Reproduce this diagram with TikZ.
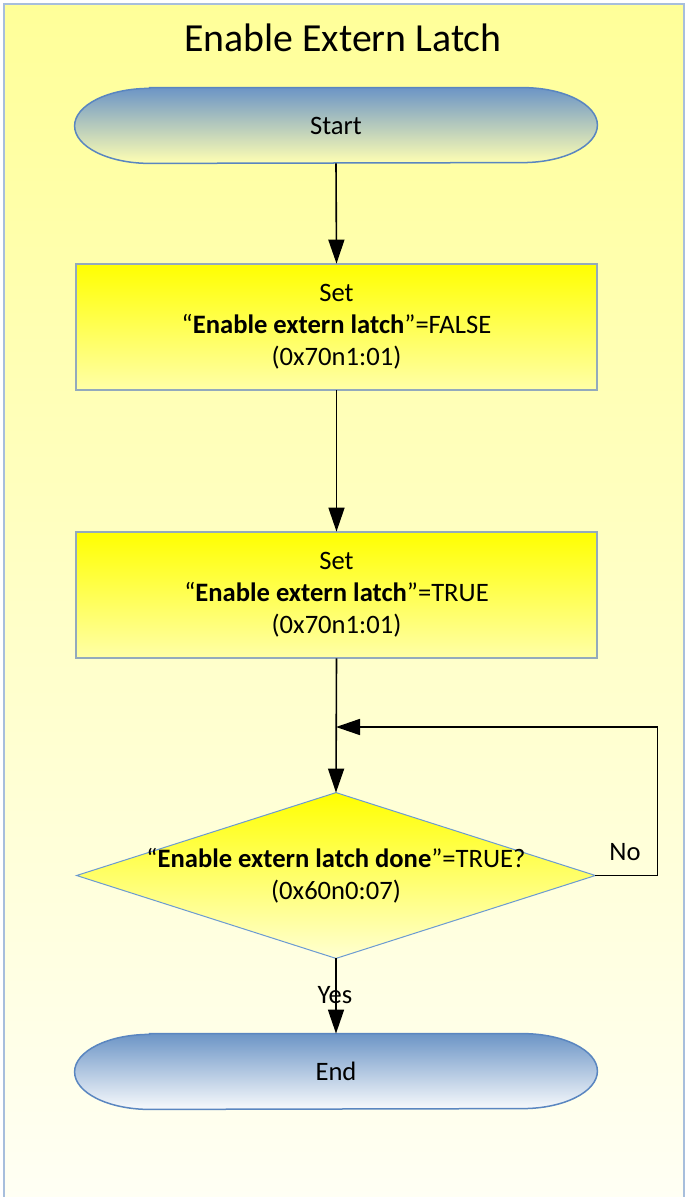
\documentclass[tikz,border=0pt]{standalone}
\usepackage{fontspec}
\setmainfont{Carlito}
\usepackage{tikz}
\usetikzlibrary{arrows.meta,backgrounds}

\definecolor{pagetop}{HTML}{FFFF99}
\definecolor{pagebot}{HTML}{FFFFF4}
\definecolor{pageline}{HTML}{A7BEDC}
\definecolor{termtop}{HTML}{6C95C6}
\definecolor{termline}{HTML}{5A86C0}
\definecolor{boxtop}{HTML}{FFFF00}
\definecolor{boxbot}{HTML}{FFFFA8}
\definecolor{boxline}{HTML}{93AABC}
\definecolor{decbot}{HTML}{FFFFD2}
\definecolor{decline}{HTML}{6B9AD2}

\tikzset{
  txt/.style={align=center, inner sep=0pt, font=\fontsize{13.3}{16}\selectfont},
  term/.style={txt, minimum width=261pt, minimum height=37.5pt},
  stepbox/.style={txt, minimum width=260.5pt, minimum height=63pt},
  decide/.style={txt, minimum width=259pt, minimum height=82.5pt},
  arr/.style={-{Triangle[length=12pt, width=8pt]}, line width=0.8pt},
}

% terminal outline with elliptic ends, drawn under the node
\newcommand{\termfill}[2]{%
  \shade[top color=termtop, bottom color=#2, draw=termline, line width=0.75pt]
    ([shift={(75,0)}]#1.north west) -- ([shift={(-75,0)}]#1.north east)
    arc[start angle=90, end angle=-90, x radius=37.5pt, y radius=18.75pt]
    -- ([shift={(75,0)}]#1.south west)
    arc[start angle=270, end angle=90, x radius=37.5pt, y radius=18.75pt] -- cycle;}

\begin{document}
\begin{tikzpicture}[x=0.5pt, y=0.5pt]
  \useasboundingbox (0,0) rectangle (686,-1197);

  % ---- nodes ----
  \node[font=\fontsize{19.9}{24}\selectfont] (title) at (343,-38) {Enable Extern Latch};
  \node[term] (start) at (336,-125.5) {Start};
  \node[stepbox] (set1) at (336.5,-327) {Set\\“\textbf{Enable extern latch}”=FALSE\\(0x70n1:01)};
  \node[stepbox] (set2) at (336.5,-595) {Set\\“\textbf{Enable extern latch}”=TRUE\\(0x70n1:01)};
  \node[decide] (check) at (336,-875.5) {“\textbf{Enable extern latch done}”=TRUE?\\(0x60n0:07)};
  \node[term] (stop) at (336,-1071.5) {End};
  \coordinate (join) at (336,-727);

  % ---- shapes ----
  \begin{scope}[on background layer]
    \shade[top color=pagetop, bottom color=pagebot] (4,-4) rectangle (684,-1197);
    \draw[pageline, line width=1pt] (4,-1197) -- (4,-4) -- (684,-4) -- (684,-1197);
    \termfill{start}{yellow!30!white}
    \termfill{stop}{termtop!5!white}
    \shade[top color=boxtop, bottom color=boxbot, draw=boxline, line width=1pt] (set1.north west) rectangle (set1.south east);
    \shade[top color=boxtop, bottom color=boxbot, draw=boxline, line width=1pt] (set2.north west) rectangle (set2.south east);
    \shade[top color=boxtop, bottom color=decbot, draw=decline, line width=0.5pt]
      (check.north) -- (check.east) -- (check.south) -- (check.west) -- cycle;
  \end{scope}

  % ---- connectors ----
  \draw[arr] (start.south) -- (set1.north);
  \draw[arr] (set1.south) -- (set2.north);
  \draw[arr] (set2.south) -- (check.north);
  \draw[arr] (check.east) -- ++(62,0) |- (join);
  \draw[arr] (check.south) -- (stop.north);
  \node[txt] (no) at (625,-852) {No};
  \node[txt] (yes) at (335,-995) {Yes};
\end{tikzpicture}
\end{document}
